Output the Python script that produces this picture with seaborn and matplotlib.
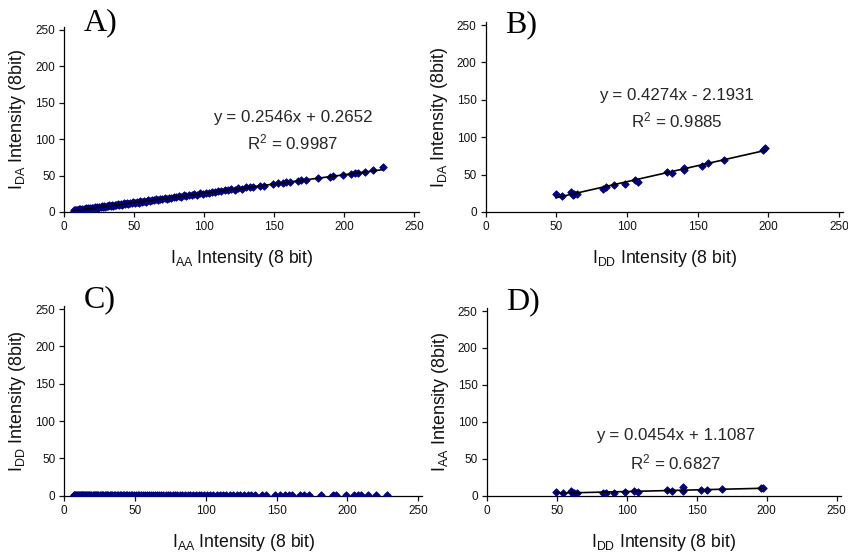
import numpy as np
import pandas as pd
import matplotlib
matplotlib.use("Agg")
import matplotlib.pyplot as plt
import seaborn as sns

# ---------------- data ----------------
# Panel A / C share the I_AA x values
iaa_dense = [6.8, 7.2, 7.9, 8.4, 9.1, 9.6, 10.3, 10.9, 11.5, 12.2,
             12.8, 13.4, 14.1, 14.9, 15.6, 16.2, 17.0, 17.7, 18.5, 19.2,
             20.1, 20.8, 21.6, 22.5, 23.3, 24.1, 25.0, 25.9, 26.7, 27.6,
             28.5, 29.4, 30.3, 31.2, 32.2, 33.1, 34.0, 35.0, 36.0, 37.0,
             38.1, 39.1, 40.2, 41.3, 42.4, 43.5, 44.6, 45.8, 47.0, 48.2,
             49.4, 50.6, 51.9, 53.1, 54.4, 55.7, 57.0, 58.4, 59.8, 61.1,
             62.6, 64.0, 65.5, 67.0, 68.5, 70.1, 71.6, 73.2, 74.9, 76.5,
             78.2, 80.0, 81.7, 83.5, 85.3, 87.2, 89.0, 91.0, 92.9, 94.9,
             96.9, 99.0, 101.1, 103.2, 105.4, 107.6, 109.9, 112.2, 114.6, 117.0,
             119.4, 121.9, 124.4, 127.0, 129.6, 132.3]
ida_dense = [2.6, 1.6, 3.2, 2.1, 3.0, 2.1, 3.9, 2.8, 3.7, 2.7,
             4.3, 3.3, 4.2, 3.3, 5.1, 4.1, 5.2, 4.2, 5.4, 4.3,
             6.1, 5.4, 6.8, 5.5, 6.5, 5.6, 7.2, 6.5, 7.9, 6.7,
             7.9, 7.1, 8.9, 7.9, 9.0, 7.9, 9.6, 8.8, 10.0, 9.1,
             10.8, 9.7, 10.9, 10.0, 12.0, 11.0, 12.1, 11.2, 12.8, 12.1,
             13.6, 12.6, 13.8, 13.0, 14.8, 14.2, 15.4, 14.4, 16.0, 15.4,
             17.0, 16.1, 17.3, 16.6, 18.3, 17.8, 19.2, 18.3, 19.7, 19.2,
             20.8, 20.2, 21.6, 20.9, 22.7, 22.2, 23.4, 22.8, 24.3, 23.9,
             25.5, 25.1, 26.5, 26.2, 27.5, 27.2, 28.9, 28.4, 29.9, 29.8,
             31.2, 30.9, 32.3, 32.1, 33.7, 33.7]
iaa_sparse = [134.5, 140.0, 142.3, 149.0, 152.8, 156.1, 158.5, 161.0, 166.9, 169.2,
              172.9, 181.2, 189.7, 192.1, 199.2, 205.0, 207.6, 210.0, 214.8, 220.2, 227.8]
ida_sparse = [34.6, 36.4, 36.0, 38.4, 39.2, 40.0, 40.6, 41.2, 42.8, 43.4,
              44.4, 46.4, 48.6, 49.4, 50.8, 52.6, 53.6, 54.0, 54.8, 57.2, 61.4]
# Panel C: I_DD values (all close to zero)
idd_c_dense = [0.6, 1.1, 0.4, 0.9, 1.3, 0.5, 0.8, 1.0, 0.3, 0.7,
               1.2, 0.5, 0.9, 0.6, 1.1, 0.4, 0.8, 1.3, 0.6, 0.9,
               0.5, 1.0, 0.7, 1.2, 0.4, 0.8, 0.6, 1.1, 0.9, 0.5,
               1.0, 0.7, 0.4, 1.2, 0.8, 0.6, 0.9, 0.5, 1.1, 0.7,
               0.3, 0.9, 1.0, 0.6, 0.8, 0.4, 1.2, 0.7, 0.5, 0.9,
               0.6, 1.0, 0.8, 0.4, 0.7, 1.1, 0.5, 0.9, 0.6, 0.8,
               1.0, 0.4, 0.7, 0.9, 0.5, 0.8, 0.6, 1.0, 0.4, 0.7,
               0.9, 0.5, 0.8, 0.6, 0.7, 0.4, 0.9, 0.6, 0.5, 0.8,
               0.7, 0.4, 0.6, 0.9, 0.5, 0.7, 0.6, 0.4, 0.8, 0.5,
               0.6, 0.7, 0.4, 0.6, 0.5, 0.7]
idd_c_sparse = [0.5, 0.6, 0.4, 0.5, 0.3, 0.6, 0.4, 0.5, 0.4, 0.6,
                0.3, 0.5, 0.4, 0.3, 0.5, 0.4, 0.6, 0.5, 0.3, 0.5, 0.4]
# Panels B / D share the I_DD x values
idd_bd = [49.5, 54.2, 60.4, 61.6, 62.2, 64.6, 82.8, 85.4, 90.6, 98.6,
          105.4, 108.0, 128.5, 132.0, 140.0, 140.2, 152.8, 157.5, 168.4, 196.0, 197.6]
ida_b = [23.6, 21.8, 27.2, 22.7, 24.5, 24.1, 31.2, 33.4, 35.7, 37.9,
         43.2, 40.6, 53.9, 52.1, 59.3, 55.7, 61.9, 65.5, 69.5, 83.3, 86.0]
iaa_d = [5.4, 3.2, 6.3, 1.8, 4.0, 3.2, 4.0, 4.0, 4.0, 5.4,
         6.3, 5.4, 7.7, 6.3, 11.7, 6.3, 7.7, 7.7, 8.6, 9.9, 10.8]

# Trendline coefficients printed on the chart
fit_a = (0.2546, 0.2652, 0.9987)
fit_b = (0.4274, -2.1931, 0.9885)
fit_d = (0.0454, 1.1087, 0.6827)

ticks = [0, 50, 100, 150, 200, 250]

# ---------------- style ----------------
sns.set_style("ticks")
plt.rcParams['font.family'] = ['Liberation Sans', 'DejaVu Sans']
plt.rcParams['mathtext.fontset'] = 'custom'
plt.rcParams['mathtext.rm'] = 'Liberation Sans'
plt.rcParams['mathtext.it'] = 'Liberation Sans:italic'

NAVY = '#000080'
fig = plt.figure(figsize=(8.48, 5.53), dpi=100)
W, H = 848, 553


def make_axes(x0, x250, y0, y250, xmax=253, ymax=254):
    pxu = (x250 - x0) / 250.0
    pyu = (y0 - y250) / 250.0
    left = x0 / W
    width = pxu * xmax / W
    bottom = (H - y0) / H
    height = pyu * ymax / H
    ax = fig.add_axes([left, bottom, width, height])
    ax.set_xlim(0, xmax)
    ax.set_ylim(0, ymax)
    return ax


def style(ax, xlabel, ylabel, letter, letter_y=1.10):
    ax.set_xticks(ticks)
    ax.set_yticks(ticks)
    ax.tick_params(axis='both', direction='out', length=3.5, width=0.9,
                   labelsize=8.5, colors='#111111', pad=3)
    for s in ['top', 'right']:
        ax.spines[s].set_visible(False)
    for s in ['left', 'bottom']:
        ax.spines[s].set_color('black')
        ax.spines[s].set_linewidth(0.9)
    ax.set_xlabel(xlabel, fontsize=12.7, labelpad=11, color='#111111')
    ax.set_ylabel(ylabel, fontsize=12.9, labelpad=5, color='#111111')
    ax.text(0.055, letter_y, letter, transform=ax.transAxes, fontsize=23,
            family=['Liberation Serif', 'DejaVu Serif'], va='top', ha='left', color='black')


def scatter(ax, x, y):
    df = pd.DataFrame({'x': x, 'y': y})
    sns.scatterplot(data=df, x='x', y='y', ax=ax, marker='D', s=14,
                    color=NAVY, edgecolor=NAVY, linewidth=0.7, zorder=3)
    ax.set_xlabel('')
    ax.set_ylabel('')


def fitline(ax, x, coef):
    m, b, _ = coef
    xs = [min(x), max(x)]
    df = pd.DataFrame({'x': xs, 'y': [m * v + b for v in xs]})
    sns.lineplot(data=df, x='x', y='y', ax=ax, color='black', linewidth=1.2, zorder=4)


def eq_text(ax, coef, x, y1, y2):
    m, b, r2 = coef
    sign = '+' if b >= 0 else '-'
    ax.text(x, y1, f"y = {m:.4f}x {sign} {abs(b):.4f}", ha='center', va='center', fontsize=12.2)
    ax.text(x, y2, f"R$^2$ = {r2:.4f}", ha='center', va='center', fontsize=12.2)


xa = iaa_dense + iaa_sparse
ya = ida_dense + ida_sparse
yc = idd_c_dense + idd_c_sparse

# A
axA = make_axes(64.3, 414.3, 212, 30)
scatter(axA, xa, ya)
fitline(axA, xa, fit_a)
style(axA, r'I$_{\mathrm{AA}}$ Intensity (8 bit)', r'I$_{\mathrm{DA}}$ Intensity (8bit)', 'A)')
eq_text(axA, fit_a, 163, 130, 95)

# B
axB = make_axes(485.7, 839.0, 212, 25)
scatter(axB, idd_bd, ida_b)
fitline(axB, idd_bd, fit_b)
style(axB, r'I$_{\mathrm{DD}}$ Intensity (8 bit)', r'I$_{\mathrm{DA}}$ Intensity (8bit)', 'B)', 1.062)
eq_text(axB, fit_b, 135, 156, 123)

# C (no trendline text)
axC = make_axes(64.3, 418.0, 495.7, 309)
scatter(axC, xa, yc)
style(axC, r'I$_{\mathrm{AA}}$ Intensity (8 bit)', r'I$_{\mathrm{DD}}$ Intensity (8bit)', 'C)', 1.11)

# D
axD = make_axes(486.7, 836.7, 495.7, 311)
scatter(axD, idd_bd, iaa_d)
fitline(axD, idd_bd, fit_d)
style(axD, r'I$_{\mathrm{DD}}$ Intensity (8 bit)', r'I$_{\mathrm{AA}}$ Intensity (8bit)', 'D)', 1.11)
eq_text(axD, fit_d, 135, 81.7, 44.6)

fig.savefig('out.png', dpi=100)
